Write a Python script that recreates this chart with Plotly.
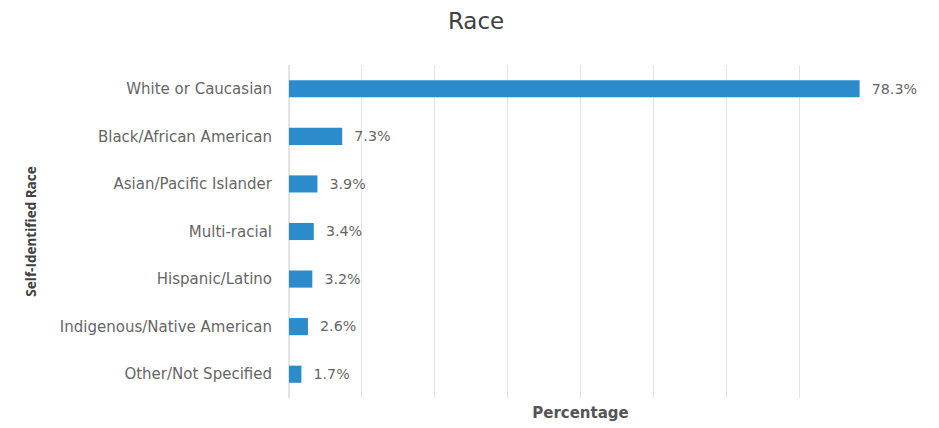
import plotly.graph_objects as go

# Survey breakdown by self-identified race (percent of respondents)
categories = [
    "White or Caucasian",
    "Black/African American",
    "Asian/Pacific Islander",
    "Multi-racial",
    "Hispanic/Latino",
    "Indigenous/Native American",
    "Other/Not Specified",
]
percentages = [78.3, 7.3, 3.9, 3.4, 3.2, 2.6, 1.7]

BAR_COLOR = "#2B8BCB"
TEXT_COLOR = "#666666"
FONT = "DejaVu Sans, sans-serif"

fig = go.Figure(
    go.Bar(
        x=percentages,
        y=categories,
        orientation="h",
        marker=dict(color=BAR_COLOR, line=dict(width=0)),
        text=[f"  {v:.1f}%" for v in percentages],
        textposition="outside",
        textfont=dict(family=FONT, size=15, color=TEXT_COLOR),
        cliponaxis=False,
        hoverinfo="x+y",
    )
)

fig.update_layout(
    width=939,
    height=428,
    margin=dict(l=289, r=67, t=65, b=30),
    paper_bgcolor="white",
    plot_bgcolor="white",
    bargap=0.64,
    showlegend=False,
    font=dict(family=FONT, color=TEXT_COLOR),
    title=dict(
        text="Race",
        x=0.507,
        xanchor="center",
        y=0.95,
        yanchor="middle",
        font=dict(family=FONT, size=23, color="#404040"),
    ),
)

fig.update_xaxes(
    range=[0, 80],
    dtick=10,
    showticklabels=False,
    showgrid=True,
    gridcolor="#E4E4E4",
    gridwidth=1,
    zeroline=True,
    zerolinecolor="#E4E4E4",
    showline=False,
    automargin=False,
    title=dict(
        text="<b>Percentage</b>",
        font=dict(family=FONT, size=15, color="#555555"),
        standoff=9,
    ),
)

fig.update_yaxes(
    categoryorder="array",
    categoryarray=categories[::-1],
    showgrid=False,
    showline=False,
    ticks="",
    ticklabelstandoff=16,
    tickfont=dict(family=FONT, size=15, color=TEXT_COLOR),
    title=dict(
        text="<b>Self-Identified Race</b>",
        font=dict(family="Open Sans, sans-serif", size=13.5, color="#404040"),
        standoff=20,
    ),
)

fig.write_html("out.html")
